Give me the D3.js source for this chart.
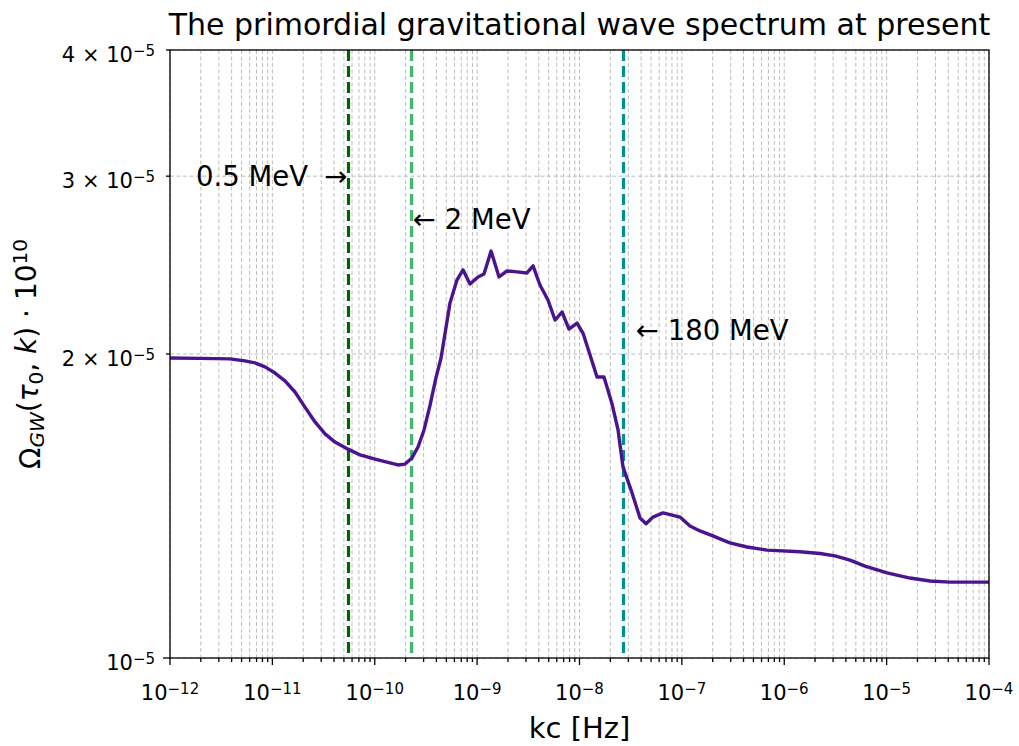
<!DOCTYPE html>
<html>
<head>
<meta charset="utf-8">
<script src="https://cdn.jsdelivr.net/npm/d3@7"></script>
<style>
  body { margin: 0; background: #fff; }
  text { font-family: "DejaVu Sans", sans-serif; fill: #000; }
</style>
</head>
<body>
<div id="chart"></div>
<script>
// spectrum: kc [Hz] and Omega_GW
var kc = [1.00e-12, 1.963e-12, 3.855e-12, 5.40e-12, 6.76e-12, 8.47e-12, 1.061e-11, 1.328e-11, 1.663e-11, 2.08e-11,
  2.61e-11, 3.27e-11, 4.09e-11, 5.48e-11, 7.18e-11, 1.005e-10, 1.409e-10, 1.687e-10, 1.977e-10, 2.31e-10,
  2.645e-10, 3.03e-10, 3.47e-10, 3.96e-10, 4.44e-10, 5.43e-10,
  6.35e-10, 7.28e-10, 8.51e-10, 1.021e-9, 1.167e-9, 1.368e-9, 1.637e-9, 1.959e-9, 2.455e-9, 3.07e-9,
  3.52e-9, 4.11e-9, 4.92e-9, 5.77e-9, 6.75e-9, 7.89e-9, 9.46e-9, 1.081e-8, 1.268e-8, 1.483e-8,
  1.734e-8, 2.07e-8, 2.38e-8, 2.66e-8, 3.26e-8, 3.90e-8, 4.47e-8, 5.22e-8, 6.55e-8, 9.59e-8,
  1.20e-7, 1.503e-7, 2.01e-7, 2.357e-7, 2.95e-7, 4.33e-7, 6.79e-7, 1.426e-6, 2.234e-6, 3.13e-6,
  4.39e-6, 6.15e-6, 1.009e-5, 1.69e-5, 2.65e-5, 4.16e-5, 1.00e-4];

var omega = [1.982e-5, 1.980e-5, 1.978e-5, 1.969e-5, 1.960e-5, 1.942e-5, 1.915e-5, 1.881e-5, 1.834e-5, 1.772e-5,
  1.713e-5, 1.667e-5, 1.636e-5, 1.610e-5, 1.589e-5, 1.574e-5, 1.560e-5, 1.553e-5, 1.556e-5, 1.578e-5,
  1.618e-5, 1.682e-5, 1.780e-5, 1.894e-5, 1.982e-5, 2.246e-5,
  2.367e-5, 2.423e-5, 2.346e-5, 2.384e-5, 2.400e-5, 2.529e-5, 2.384e-5, 2.417e-5, 2.412e-5, 2.406e-5,
  2.445e-5, 2.341e-5, 2.262e-5, 2.161e-5, 2.201e-5, 2.117e-5, 2.146e-5, 2.098e-5, 1.995e-5, 1.898e-5,
  1.898e-5, 1.788e-5, 1.682e-5, 1.546e-5, 1.457e-5, 1.376e-5, 1.358e-5, 1.379e-5, 1.392e-5, 1.379e-5,
  1.351e-5, 1.336e-5, 1.321e-5, 1.312e-5, 1.300e-5, 1.288e-5, 1.279e-5, 1.274e-5, 1.269e-5, 1.262e-5,
  1.250e-5, 1.233e-5, 1.214e-5, 1.200e-5, 1.192e-5, 1.189e-5, 1.189e-5];

// temperature markers
var eventK = [5.48e-11, 2.26e-10, 2.66e-8];
var eventLabels = ["0.5 MeV", "2 MeV", "180 MeV"];
var eventLabelY = [3.0e-5, 2.72e-5, 2.11e-5];
var eventColors = ["#006400", "#3cb96a", "#009090"];

// tick labels
var xTickExp = [-12, -11, -10, -9, -8, -7, -6, -5, -4];
var yTickValues = [1e-5, 2e-5, 3e-5, 4e-5];
var yTickMantissa = ["", "2", "3", "4"];

var margin = {top: 50, right: 30, bottom: 88, left: 170},
    width = 1019 - margin.left - margin.right,
    height = 746 - margin.top - margin.bottom;

var svg = d3.select("#chart").append("svg")
    .attr("width", 1019)
    .attr("height", 746)
    .append("g")
    .attr("transform", "translate(" + margin.left + "," + margin.top + ")");

var x = d3.scaleLog().domain([1e-12, 1e-4]).range([0, width]);
var y = d3.scaleLog().domain([1e-5, 4e-5]).range([height, 0]);

var isMajor = function(d) { return Math.abs(Math.log10(d) - Math.round(Math.log10(d))) < 1e-6; };

// grid
var grid = svg.append("g").attr("class", "grid");
grid.selectAll(".vgrid")
    .data(x.ticks())
    .enter().append("line")
    .attr("x1", function(d) { return x(d); })
    .attr("x2", function(d) { return x(d); })
    .attr("y1", 0).attr("y2", height)
    .style("stroke", "#bdbdbd").style("stroke-width", 1).style("stroke-dasharray", "4,2.5");

grid.selectAll(".hgrid")
    .data(yTickValues)
    .enter().append("line")
    .attr("x1", 0).attr("x2", width)
    .attr("y1", function(d) { return y(d); })
    .attr("y2", function(d) { return y(d); })
    .style("stroke", "#bdbdbd").style("stroke-width", 1).style("stroke-dasharray", "4,2.5");

// vertical marker lines
svg.selectAll(".vline")
    .data(eventK)
    .enter().append("line")
    .attr("x1", function(d) { return Math.round(x(d)) + 0.5; })
    .attr("x2", function(d) { return Math.round(x(d)) + 0.5; })
    .attr("y1", 0).attr("y2", height)
    .style("stroke", function(d, i) { return eventColors[i]; })
    .style("stroke-width", 3.2)
    .style("stroke-dasharray", "11,5");

// spectrum
var points = kc.map(function(k, i) { return {k: k, v: omega[i]}; });
var line = d3.line()
    .curve(d3.curveLinear)
    .x(function(d) { return x(d.k); })
    .y(function(d) { return y(d.v); });

svg.append("path")
    .attr("d", line(points))
    .style("fill", "none")
    .style("stroke", "#4b148f")
    .style("stroke-width", 3.4)
    .style("stroke-linejoin", "round");

// annotations
eventK.forEach(function(k, i) {
  var t = svg.append("text")
      .attr("y", y(eventLabelY[i]))
      .attr("dy", "0.35em")
      .style("font-size", "27.5px")
      .style("white-space", "pre");
  if (i === 0) {
    t.attr("x", x(k) - 1).attr("text-anchor", "end");
    t.append("tspan").text(eventLabels[i]);
    t.append("tspan").attr("dx", 16).text("\u2192");
  } else {
    t.attr("x", x(k) + (i === 1 ? 2 : 13)).attr("text-anchor", "start").text("\u2190 " + eventLabels[i]);
  }
});

// axes frame
svg.append("rect")
    .attr("width", width).attr("height", height)
    .style("fill", "none").style("stroke", "#000").style("stroke-width", 1.3);

// x ticks
var xt = svg.append("g").attr("transform", "translate(0," + height + ")");
xt.selectAll("line")
    .data(x.ticks())
    .enter().append("line")
    .attr("x1", function(d) { return x(d); })
    .attr("x2", function(d) { return x(d); })
    .attr("y1", 0)
    .attr("y2", function(d) { return isMajor(d) ? 7 : 4; })
    .style("stroke", "#000").style("stroke-width", 1.3);

var xl = xt.selectAll(".xlabel")
    .data(xTickExp)
    .enter().append("text")
    .attr("x", function(d) { return x(Math.pow(10, d)); })
    .attr("y", 42)
    .attr("text-anchor", "middle")
    .style("font-size", "21px");
xl.append("tspan").text("10");
xl.append("tspan").attr("dy", "-0.4em").style("font-size", "15px")
    .text(function(d) { return "\u2212" + Math.abs(d); });

// y ticks
var yt = svg.append("g");
yt.selectAll("line")
    .data(yTickValues)
    .enter().append("line")
    .attr("x1", function(d, i) { return i === 0 ? -7 : -4; })
    .attr("x2", 0)
    .attr("y1", function(d) { return y(d); })
    .attr("y2", function(d) { return y(d); })
    .style("stroke", "#000").style("stroke-width", 1.3);

var yl = yt.selectAll(".ylabel")
    .data(yTickValues)
    .enter().append("text")
    .attr("x", -15)
    .attr("y", function(d) { return y(d) + 12; })
    .attr("text-anchor", "end")
    .style("font-size", "21px")
    .style("white-space", "pre");
yl.append("tspan").text(function(d, i) { return yTickMantissa[i] ? yTickMantissa[i] + " \u00d7 10" : "10"; });
yl.append("tspan").attr("dy", "-0.4em").style("font-size", "15px").text("\u22125");

// title and axis labels
svg.append("text")
    .attr("x", width / 2).attr("y", -15)
    .attr("text-anchor", "middle")
    .style("font-size", "30px")
    .text("The primordial gravitational wave spectrum at present");

svg.append("text")
    .attr("x", width / 2).attr("y", height + 80)
    .attr("text-anchor", "middle")
    .style("font-size", "29px")
    .text("kc [Hz]");

var ylab = svg.append("text")
    .attr("transform", "translate(" + (-130) + "," + (height / 2) + ") rotate(-90)")
    .attr("text-anchor", "middle")
    .style("font-size", "28px")
    .style("white-space", "pre");
ylab.append("tspan").text("\u03a9");
ylab.append("tspan").attr("dy", "0.22em").style("font-size", "20px").style("font-style", "italic").text("GW");
ylab.append("tspan").attr("dy", "-0.22em").text("(");
ylab.append("tspan").style("font-style", "italic").text("\u03c4");
ylab.append("tspan").attr("dy", "0.22em").style("font-size", "20px").text("0");
ylab.append("tspan").attr("dy", "-0.22em").text(", ");
ylab.append("tspan").style("font-style", "italic").text("k");
ylab.append("tspan").text(") \u00b7 10");
ylab.append("tspan").attr("dy", "-0.45em").style("font-size", "20px").text("10");
</script>
</body>
</html>
